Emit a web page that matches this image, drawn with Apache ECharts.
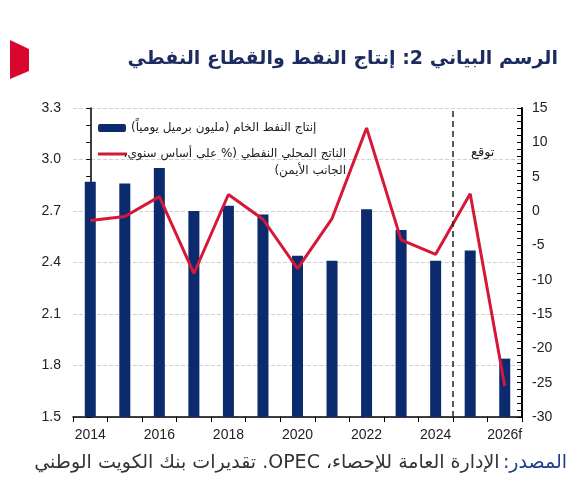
<!DOCTYPE html>
<html>
<head>
<meta charset="utf-8">
<script src="https://cdn.jsdelivr.net/npm/echarts@6/dist/echarts.min.js"></script>
<style>
  html, body { margin: 0; padding: 0; background: #fff; }
  #main { width: 580px; height: 500px; }
</style>
</head>
<body>
<div id="main" dir="rtl"></div>
<script>
// chart data
const years = ["2014", "2015", "2016", "2017", "2018", "2019", "2020", "2021", "2022", "2023", "2024", "2025", "2026f"];
const oilProduction = [2.87, 2.86, 2.95, 2.70, 2.73, 2.68, 2.44, 2.41, 2.71, 2.59, 2.41, 2.47, 1.84];
const oilGdp = [-1.4, -0.8, 2.1, -9.1, 2.4, -1.2, -8.4, -1.1, 12.1, -4.2, -6.3, 2.5, -25.5];
const forecastStart = 10.5; // between 2024 and 2025

const barName = "إنتاج النفط الخام (مليون برميل يومياً)";
const lineName = "الناتج المحلي النفطي (% على أساس سنوي، الجانب الأيمن)";
const lineNameRows = ["الناتج المحلي النفطي (% على أساس سنوي،", "الجانب الأيمن)"];

const arabicFont = "'DejaVu Sans', sans-serif";
const numFont = "'Liberation Sans', Arial, sans-serif";
const navy = "#0c2b6e";
const red = "#d5173a";

// canvas is rtl, keep numbers left-to-right
const ltr = (s) => "\u202A" + s + "\u202C";

const myChart = echarts.init(document.getElementById("main"));
myChart.setOption({
  animation: false,
  title: {
    text: "الرسم البياني 2: إنتاج النفط والقطاع النفطي",
    right: 17,
    top: 45,
    textStyle: {
      fontFamily: arabicFont,
      fontSize: 19,
      fontWeight: "bold",
      color: "#1c2c5e",
    },
  },
  legend: [
    {
      data: [barName],
      left: 93,
      top: 117,
      itemWidth: 28,
      itemHeight: 8,
      itemGap: 4,
      textStyle: { fontFamily: arabicFont, fontSize: 12, color: "#222" },
    },
    {
      data: [{ name: lineName, icon: "rect" }],
      left: 93,
      top: 143,
      itemWidth: 29,
      itemHeight: 3,
      itemGap: 4,
      formatter: () => "{a|" + lineNameRows[0] + "}\n{a|" + lineNameRows[1] + "}",
      textStyle: {
        fontFamily: arabicFont,
        fontSize: 12,
        color: "#222",
        padding: [17, 0, 0, 0],
        rich: {
          a: { width: 214, align: "right", lineHeight: 17, fontFamily: arabicFont, fontSize: 12, color: "#222" },
        },
      },
    },
  ],
  grid: {
    left: 73,
    right: 58,
    top: 108,
    bottom: 83,
  },
  xAxis: [
    {
      type: "category",
      data: years,
      axisLine: { onZero: false, lineStyle: { color: "#000", width: 1.5 } },
      axisTick: { show: true, interval: 0, length: 5, lineStyle: { color: "#000" } },
      axisLabel: {
        interval: 1,
        margin: 11,
        fontFamily: numFont,
        fontSize: 14,
        color: "#222",
      },
    },
    {
      // hidden axis used to place the forecast divider between categories
      type: "value",
      min: -0.5,
      max: 12.5,
      show: false,
    },
  ],
  yAxis: [
    {
      type: "value",
      min: 1.5,
      max: 3.3,
      interval: 0.3,
      axisLine: { show: true, lineStyle: { color: "#000", width: 1.5 } },
      axisTick: { show: true, length: 4, lineStyle: { color: "#000" } },
      minorTick: { show: true, splitNumber: 3, length: 4, lineStyle: { color: "#000" } },
      splitLine: { show: true, lineStyle: { color: "#d0d0d0", type: "dashed" } },
      axisLabel: {
        margin: 12,
        fontFamily: numFont,
        fontSize: 14,
        color: "#222",
        formatter: (v) => v.toFixed(1),
      },
    },
    {
      type: "value",
      min: -30,
      max: 15,
      interval: 5,
      position: "right",
      axisLine: { show: true, lineStyle: { color: "#000", width: 2 } },
      axisTick: { show: true, inside: true, length: 5, lineStyle: { color: "#000" } },
      minorTick: { show: true, splitNumber: 5, length: 5, lineStyle: { color: "#000" } },
      splitLine: { show: false },
      axisLabel: {
        margin: 10,
        fontFamily: numFont,
        fontSize: 14,
        color: "#222",
        formatter: (v) => ltr(String(v)),
      },
    },
  ],
  graphic: [
    {
      type: "polygon",
      shape: { points: [[10, 40], [29, 49], [29, 71], [10, 79]] },
      style: { fill: "#d8072d" },
    },
    {
      type: "text",
      left: 471,
      top: 146,
      style: { text: "توقع", font: "13px " + arabicFont, fill: "#222" },
    },
    {
      type: "text",
      right: 13,
      top: 454,
      style: {
        text: "{n|الإدارة العامة للإحصاء، OPEC. تقديرات بنك الكويت الوطني} {b|المصدر:}",
        rich: {
          n: { fontFamily: arabicFont, fontSize: 19, fill: "#333" },
          b: { fontFamily: arabicFont, fontSize: 19, fill: "#1e3c8c" },
        },
      },
    },
  ],
  series: [
    {
      name: barName,
      type: "bar",
      data: oilProduction,
      barWidth: 11,
      itemStyle: { color: navy },
    },
    {
      name: lineName,
      type: "line",
      yAxisIndex: 1,
      data: oilGdp,
      symbol: "none",
      lineStyle: { color: red, width: 3 },
      itemStyle: { color: red },
    },
    {
      name: "forecast",
      type: "line",
      xAxisIndex: 1,
      yAxisIndex: 0,
      data: [],
      silent: true,
      markLine: {
        symbol: "none",
        silent: true,
        label: { show: false },
        lineStyle: { color: "#222", type: [6, 4], width: 1.5 },
        data: [{ xAxis: forecastStart }],
      },
    },
  ],
});
</script>
</body>
</html>
